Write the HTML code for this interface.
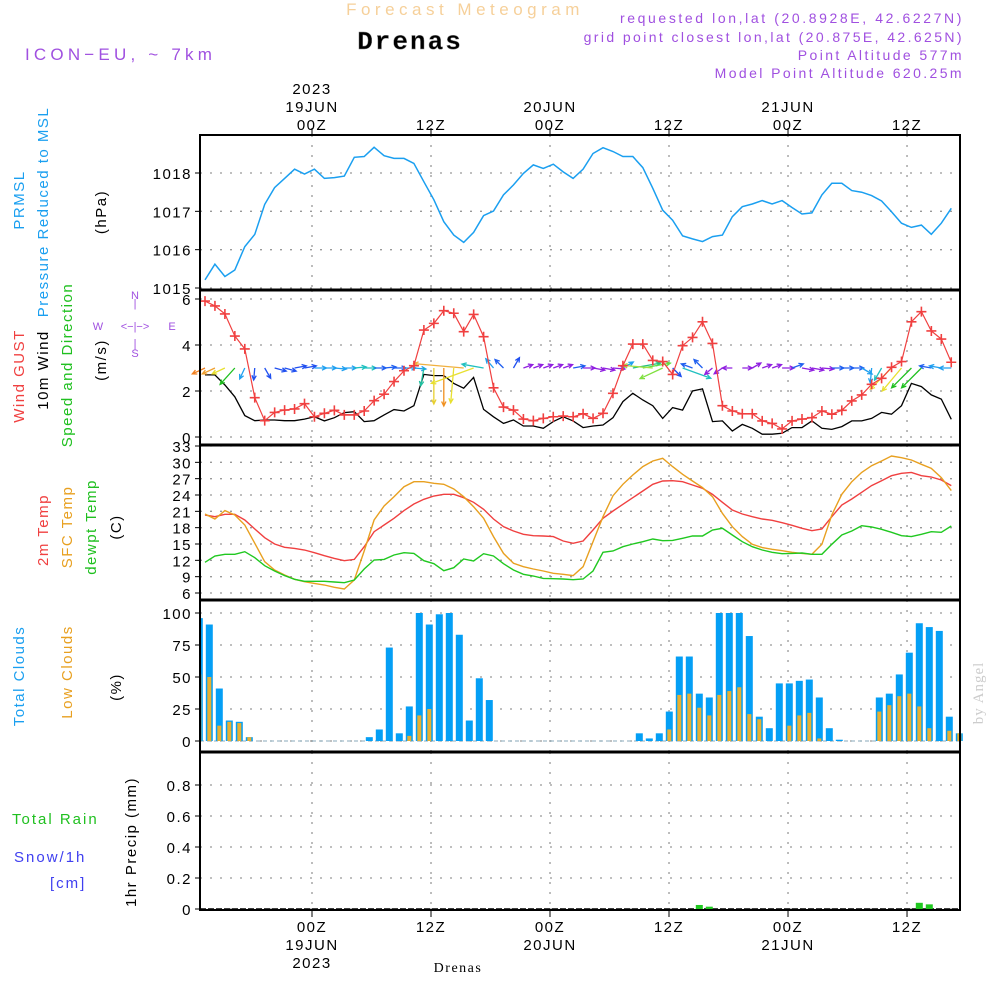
<!DOCTYPE html>
<html><head><meta charset="utf-8"><style>
html,body{margin:0;padding:0;background:#fff;}
svg{display:block;font-family:"Liberation Sans",sans-serif;}
.t{font-size:15px;letter-spacing:1.5px;fill:#000;}
</style></head><body>
<svg id="chart" width="1000" height="1000" viewBox="0 0 1000 1000" xmlns="http://www.w3.org/2000/svg">
<g>
<text x="465" y="15" text-anchor="middle" font-size="17" letter-spacing="4.5" fill="#f6d09a">Forecast Meteogram</text>
<text x="410" y="49" text-anchor="middle" font-family="Liberation Mono,monospace" font-weight="bold" font-size="26" letter-spacing="2" fill="#000" stroke="#888" stroke-width="0.4">Drenas</text>
<text x="25" y="60" font-size="17" letter-spacing="4.2" fill="#a050e0">ICON−EU, ~ 7km</text>
<text x="964" y="23" text-anchor="end" font-size="14" letter-spacing="2.6" fill="#a050e0">requested lon,lat (20.8928E, 42.6227N)</text>
<text x="964" y="42" text-anchor="end" font-size="14" letter-spacing="2.4" fill="#a050e0">grid point closest lon,lat (20.875E, 42.625N)</text>
<text x="964" y="60" text-anchor="end" font-size="14" letter-spacing="2.4" fill="#a050e0">Point Altitude 577m</text>
<text x="964" y="78" text-anchor="end" font-size="14" letter-spacing="2.4" fill="#a050e0">Model Point Altitude 620.25m</text>
</g>
<g>
<text class="t" transform="translate(24,200) rotate(-90)" text-anchor="middle" style="fill:#1a9ff0">PRMSL</text>
<text class="t" transform="translate(48,212) rotate(-90)" text-anchor="middle" style="fill:#1a9ff0">Pressure Reduced to MSL</text>
<text class="t" transform="translate(106,212) rotate(-90)" text-anchor="middle">(hPa)</text>
<text class="t" transform="translate(24,376) rotate(-90)" text-anchor="middle" style="fill:#f04040">Wind GUST</text>
<text class="t" transform="translate(48,370) rotate(-90)" text-anchor="middle">10m Wind</text>
<text class="t" transform="translate(72,365) rotate(-90)" text-anchor="middle" style="fill:#20c020">Speed and Direction</text>
<text class="t" transform="translate(106,360) rotate(-90)" text-anchor="middle">(m/s)</text>
<g fill="#a050e0" font-size="11">
<text x="135" y="299" text-anchor="middle">N</text><text x="135" y="307" text-anchor="middle">|</text>
<text x="98" y="330" text-anchor="middle">W</text><text x="135" y="330" text-anchor="middle">&lt;−|−&gt;</text><text x="172" y="330" text-anchor="middle">E</text>
<text x="135" y="347" text-anchor="middle">|</text><text x="135" y="357" text-anchor="middle">S</text>
</g>
<text class="t" transform="translate(48,530) rotate(-90)" text-anchor="middle" style="fill:#f04040">2m Temp</text>
<text class="t" transform="translate(72,527) rotate(-90)" text-anchor="middle" style="fill:#e8a020">SFC Temp</text>
<text class="t" transform="translate(96,527) rotate(-90)" text-anchor="middle" style="fill:#20c020">dewpt Temp</text>
<text class="t" transform="translate(121,527) rotate(-90)" text-anchor="middle">(C)</text>
<text class="t" transform="translate(24,676) rotate(-90)" text-anchor="middle" style="fill:#1a9ff0">Total Clouds</text>
<text class="t" transform="translate(72,672) rotate(-90)" text-anchor="middle" style="fill:#e8a020">Low Clouds</text>
<text class="t" transform="translate(121,687) rotate(-90)" text-anchor="middle">(%)</text>
<text class="t" transform="translate(136,842) rotate(-90)" text-anchor="middle">1hr Precip (mm)</text>
<text class="t" x="12" y="824" style="fill:#20c020;letter-spacing:2px">Total  Rain</text>
<text class="t" x="14" y="862" style="fill:#4040f0;letter-spacing:2px">Snow/1h</text>
<text class="t" x="50" y="888" style="fill:#4040f0;letter-spacing:2px">[cm]</text>
<text transform="translate(983,693) rotate(-90)" text-anchor="middle" font-family="Liberation Serif,serif" font-size="15" fill="#ccc" letter-spacing="1">by Angel</text>
<text x="458" y="972" text-anchor="middle" font-family="Liberation Serif,serif" font-size="14" letter-spacing="1.5" fill="#000">Drenas</text>
</g>
<g id="grid"></g><g id="marks"></g><g id="frame"></g>
</svg>
<script>
const pressure=[1015.21,1015.62,1015.30,1015.47,1016.08,1016.40,1017.18,1017.62,1017.86,1018.10,1017.97,1018.10,1017.86,1017.88,1017.92,1018.41,1018.43,1018.67,1018.45,1018.38,1018.38,1018.25,1017.77,1017.30,1016.73,1016.38,1016.19,1016.45,1016.89,1017.01,1017.43,1017.69,1017.99,1018.21,1018.12,1018.23,1018.03,1017.86,1018.10,1018.51,1018.66,1018.56,1018.43,1018.43,1018.14,1017.60,1017.03,1016.77,1016.36,1016.28,1016.21,1016.34,1016.38,1016.86,1017.12,1017.19,1017.28,1017.19,1017.28,1017.10,1016.93,1016.96,1017.43,1017.73,1017.73,1017.54,1017.50,1017.41,1017.27,1016.99,1016.69,1016.58,1016.64,1016.40,1016.69,1017.08];
const gust=[5.91,5.70,5.35,4.39,3.83,1.71,0.71,1.07,1.17,1.22,1.45,0.88,1.03,1.16,0.96,0.96,1.13,1.58,1.86,2.41,2.88,3.10,4.65,4.94,5.49,5.38,4.58,5.33,4.36,2.14,1.30,1.17,0.78,0.71,0.81,0.88,0.91,0.88,1.01,0.81,1.03,1.90,3.10,4.04,4.04,3.33,3.28,2.72,3.97,4.33,5.01,4.07,1.36,1.13,1.01,1.01,0.70,0.59,0.35,0.70,0.78,0.84,1.13,0.99,1.16,1.57,1.83,2.29,2.55,3.03,3.28,5.01,5.45,4.61,4.26,3.25];
const wind=[2.70,2.70,2.26,1.75,0.93,0.71,0.74,0.74,0.71,0.71,0.78,0.88,0.70,0.84,1.06,1.10,0.67,0.71,0.96,1.19,1.13,1.36,2.72,2.67,2.67,2.33,2.12,2.59,1.20,0.88,0.59,0.74,0.48,0.48,0.38,0.67,0.88,0.70,0.41,0.48,0.52,0.84,1.54,1.90,1.61,1.36,0.81,1.28,1.17,2.00,2.09,0.67,0.70,0.26,0.55,0.38,0.12,0.12,0.16,0.41,0.41,0.70,0.38,0.33,0.45,0.70,0.70,0.81,1.07,0.99,1.36,2.33,2.19,1.83,1.65,0.77];
const windDir=[155,155,155,132,115,95,60,15,15,-10,-10,0,0,5,0,-5,0,0,-5,0,0,5,100,90,90,95,185,160,190,230,225,-60,-20,-20,-20,-20,-20,-10,0,10,10,5,-30,-10,-10,185,155,45,20,200,225,140,145,180,0,-30,-20,-20,0,-20,10,10,5,0,0,0,30,95,120,135,130,135,135,190,190,180];
const windArrowLen=[14,14,14,22,12,12,12,12,12,12,12,12,12,12,12,12,12,12,12,12,12,12,18,36,38,35,50,45,22,12,12,12,10,10,10,10,10,12,12,12,12,12,12,28,28,30,25,12,30,12,12,10,10,10,10,10,10,10,12,12,12,12,12,12,12,12,12,15,14,30,30,28,28,12,12,12];
const windColor=["#f08020","#f0a030","#e8e030","#20c020","#20a0f0","#2050f0","#2050f0","#2050f0","#2050f0","#2050f0","#2050f0","#20a0f0","#20a0f0","#20a0f0","#20a0f0","#20c0c0","#20c0c0","#2060f0","#2060f0","#2060f0","#20a0f0","#20a0f0","#20c0a0","#e8d030","#f09020","#e8e030","#f0b040","#e8e030","#20c0c0","#20a0f0","#2060f0","#2050f0","#9020e0","#9020e0","#9020e0","#9020e0","#9020e0","#2060f0","#9020e0","#9020e0","#9020e0","#9020e0","#20a0f0","#20c080","#60e040","#a0e040","#80e040","#2050f0","#20c0c0","#2060f0","#2060f0","#9020e0","#9020e0","#9020e0","#9020e0","#9020e0","#9020e0","#9020e0","#9020e0","#2060f0","#9020e0","#9020e0","#9020e0","#2060f0","#2060f0","#2060f0","#20a0f0","#20a0f0","#20c0c0","#e8e030","#e8e030","#20c020","#20c020","#2060f0","#20a0f0","#20a0f0"];
const temp2m=[20.33,20.02,20.45,20.45,19.41,17.76,16.16,15.00,14.39,14.20,13.90,13.40,12.85,12.36,11.94,12.18,14.51,17.26,18.49,19.72,21.13,22.35,23.21,23.82,24.13,24.13,23.51,22.66,21.38,19.59,18.18,17.39,16.78,16.53,16.47,16.35,15.55,15.12,15.55,17.57,19.72,21.06,22.29,23.51,24.74,25.96,26.57,26.63,26.45,25.84,25.23,24.13,22.66,21.25,20.51,20.02,19.59,19.35,18.91,18.43,17.88,17.44,17.76,20.02,22.17,23.27,24.50,25.72,26.63,27.55,27.98,28.16,27.55,27.31,26.76,25.72];
const tempSfc=[20.51,19.59,21.13,20.33,18.49,15.12,11.75,10.22,9.31,8.51,8.08,7.77,7.47,7.04,6.73,8.39,13.71,19.41,21.98,23.69,25.53,26.45,26.45,26.15,25.96,25.10,23.69,21.86,19.72,16.35,13.28,11.45,10.83,10.41,10.04,9.61,9.43,9.19,10.83,15.42,20.02,23.88,25.96,27.68,29.21,30.25,30.74,29.21,27.80,26.57,25.35,23.69,20.63,18.18,16.35,14.94,14.33,14.02,13.77,13.47,13.28,13.10,14.94,20.33,24.13,26.45,28.16,29.39,30.25,31.17,30.86,30.43,29.64,28.90,27.19,24.80];
const dewpt=[11.63,12.80,13.10,13.10,13.59,12.49,11.02,10.04,9.19,8.51,8.14,8.14,8.14,8.02,7.90,8.39,10.41,12.06,12.18,12.98,13.40,13.28,11.94,11.39,10.10,10.65,12.25,11.88,13.22,12.80,11.39,10.22,9.43,9.12,8.69,8.63,8.57,8.45,8.57,10.04,13.47,13.71,14.51,15.00,15.42,15.92,15.61,15.67,16.04,16.47,16.47,17.57,17.88,16.65,15.42,14.51,13.90,13.47,13.22,13.28,13.34,13.10,13.10,14.94,16.65,17.39,18.37,18.12,17.70,17.14,16.53,16.35,16.78,17.26,17.14,18.31];
const totalClouds=[96,91,41,16,15,3,0,0,0,0,0,0,0,0,0,0,0,3,9,73,6,27,100,91,99,100,83,16,49,32,0,0,0,0,0,0,0,0,0,0,0,0,0,0,6,2,6,23,66,66,37,34,100,100,100,82,19,10,45,45,47,48,34,10,1,0,0,0,34,37,52,69,92,89,86,19,6];
const lowClouds=[52,50,12,15,14,3,0,0,0,0,0,0,0,0,0,0,0,0,0,0,0,4,20,25,0,0,0,0,0,0,0,0,0,0,0,0,0,0,0,0,0,0,0,0,0,0,0,9,36,37,26,20,36,39,42,21,17,0,0,12,20,22,2,0,0,0,0,0,23,28,35,37,27,10,0,8,6];
const precip=new Array(77).fill(0);
precip[50]=0.026;precip[51]=0.015;precip[72]=0.04;precip[73]=0.03;
const timeTickHours=[0,12,24,36,48,60];
const timeTickLabels=["00Z","12Z","00Z","12Z","00Z","12Z"];
const dateTickHours=[0,24,48];
const dateTickLabels=["19JUN","20JUN","21JUN"];
const pTicks=[1015,1016,1017,1018];
const wTicks=[0,2,4,6];
const tTicks=[6,9,12,15,18,21,24,27,30,33];
const cTicks=[0,25,50,75,100];
const rTicks=[0,0.2,0.4,0.6,0.8];

const NS="http://www.w3.org/2000/svg";
const X0=200,X1=960;
const xT=h=>312+h*9.917;
const xL=i=>205+i*9.95;
const xB=k=>199.3+k*10;
const lin=(d0,d1,r0,r1)=>v=>r0+(v-d0)*(r1-r0)/(d1-d0);
const yP=lin(1015,1018,288,173);
const yW=lin(0,6,437,299);
const yTm=lin(6,33,593,446);
const yC=lin(0,100,741,613);
const yR=lin(0,0.8,909,785);
const grid=document.getElementById('grid'),marks=document.getElementById('marks'),frame=document.getElementById('frame');
function mk(tag,attrs,parent){const e=document.createElementNS(NS,tag);for(const k in attrs)e.setAttribute(k,attrs[k]);parent.appendChild(e);return e;}
function txt(parent,x,y,s,anchor){const e=mk('text',{x:x,y:y,'text-anchor':anchor,'font-size':15,'letter-spacing':1.5,fill:'#000'},parent);e.textContent=s;return e;}

const panels=[{top:135,bot:290,ticks:pTicks,y:yP,name:'pressure'},{top:290,bot:445,ticks:wTicks,y:yW,name:'wind'},{top:445,bot:600,ticks:tTicks,y:yTm,name:'temp'},{top:600,bot:752,ticks:cTicks,y:yC,name:'clouds'},{top:752,bot:910,ticks:rTicks,y:yR,name:'precip'}];
panels.forEach(p=>{
  timeTickHours.forEach(h=>{const l=mk('line',{x1:xT(h),x2:xT(h),y1:p.top,y2:p.bot,stroke:'#999','stroke-width':1.3,'stroke-dasharray':'2 8'},grid);
    
    });
  p.ticks.forEach(v=>{const y=p.y(v);
    const l=mk('line',{x1:X0,x2:X1,y1:y,y2:y,stroke:'#999','stroke-width':1.3,'stroke-dasharray':'2 8'},grid);
    
    
    mk('line',{x1:X0-5,x2:X0,y1:y,y2:y,stroke:'#000'},frame);
    const t=txt(frame,192,y+6,String(v),'end');
    
    });
});
let d=pressure.map((v,i)=>(i?'L':'M')+xL(i).toFixed(1)+' '+yP(v).toFixed(1)).join('');
let e=mk('path',{d:d,fill:'none',stroke:'#1a9ff0','stroke-width':1.5},marks);


d=wind.map((v,i)=>(i?'L':'M')+xL(i).toFixed(1)+' '+yW(v).toFixed(1)).join('');
e=mk('path',{d:d,fill:'none',stroke:'#000','stroke-width':1.3},marks);


windDir.forEach((a,i)=>{
  const x=xL(i),y=yW(3.0),r=a*Math.PI/180,L=windArrowLen[i];
  const x2=x+L*Math.cos(r),y2=y+L*Math.sin(r);
  const h1=r+Math.PI-0.45,h2=r+Math.PI+0.45;
  const g=mk('path',{d:`M${x} ${y}L${x2} ${y2}M${x2+5*Math.cos(h1)} ${y2+5*Math.sin(h1)}L${x2} ${y2}L${x2+5*Math.cos(h2)} ${y2+5*Math.sin(h2)}`,fill:'none',stroke:windColor[i],'stroke-width':1.3},marks);
  
  
});
d=gust.map((v,i)=>(i?'L':'M')+xL(i).toFixed(1)+' '+yW(v).toFixed(1)).join('');
e=mk('path',{d:d,fill:'none',stroke:'#f04040','stroke-width':1.2},marks);


gust.forEach((v,i)=>{const x=xL(i),y=yW(v);
  const m=mk('path',{d:`M${x-5} ${y}H${x+5}M${x} ${y-5}V${y+5}`,stroke:'#f04040','stroke-width':1.6},marks);
  
  });
[[temp2m,'#f04040','temp-2m-line'],[tempSfc,'#e8a020','sfc-temp-line'],[dewpt,'#20c820','dewpoint-line']].forEach(s=>{
  const dd=s[0].map((v,i)=>(i?'L':'M')+xL(i).toFixed(1)+' '+yTm(v).toFixed(1)).join('');
  const p=mk('path',{d:dd,fill:'none',stroke:s[1],'stroke-width':1.4},marks);
  
  });
mk('line',{x1:X0,x2:X1,y1:yC(0),y2:yC(0),stroke:'#8ab','stroke-width':1,'stroke-dasharray':'4 3'},marks);
totalClouds.forEach((v,k)=>{const x=xB(k);if(v<=0)return;
  const r=mk('rect',{x:Math.max(X0,x-3.5),y:yC(v),width:Math.min(7,x+3.5-X0),height:yC(0)-yC(v),fill:'#049ff5'},marks);
  
  });
lowClouds.forEach((v,k)=>{const x=xB(k);if(v<=0)return;
  const r=mk('rect',{x:Math.max(X0,x-2),y:yC(v),width:Math.min(4,x+2-X0),height:yC(0)-yC(v),fill:'#e8b030'},marks);
  
  });
mk('line',{x1:X0,x2:X1,y1:yR(0),y2:yR(0),stroke:'#000','stroke-width':1.5,'stroke-dasharray':'6 2'},marks);
precip.forEach((v,k)=>{if(v<=0)return;const x=xB(k);
  const r=mk('rect',{x:x-3.5,y:yR(v),width:7,height:yR(0)-yR(v),fill:'#20c820'},marks);
  
  });
const fr=mk('rect',{x:X0,y:135,width:X1-X0,height:775,fill:'none',stroke:'#000','stroke-width':2},frame);


[290,445,600,752].forEach(y=>{const l=mk('line',{x1:X0,x2:X1,y1:y,y2:y,stroke:'#000','stroke-width':3},frame);
  
  });
timeTickHours.forEach((h,i)=>{const x=xT(h);
  mk('line',{x1:x,x2:x,y1:128,y2:135,stroke:'#000'},frame);
  mk('line',{x1:x,x2:x,y1:910,y2:917,stroke:'#000'},frame);
  let t=txt(frame,x,130,timeTickLabels[i],'middle');
  
  
  t=txt(frame,x,932,timeTickLabels[i],'middle');
  
  });
dateTickHours.forEach((h,i)=>{const x=xT(h);
  let t=txt(frame,x,112,dateTickLabels[i],'middle');
  
  
  t=txt(frame,x,950,dateTickLabels[i],'middle');
  
  });
let yr=txt(frame,xT(0),94,'2023','middle');


yr=txt(frame,xT(0),968,'2023','middle');


</script>
</body></html>
